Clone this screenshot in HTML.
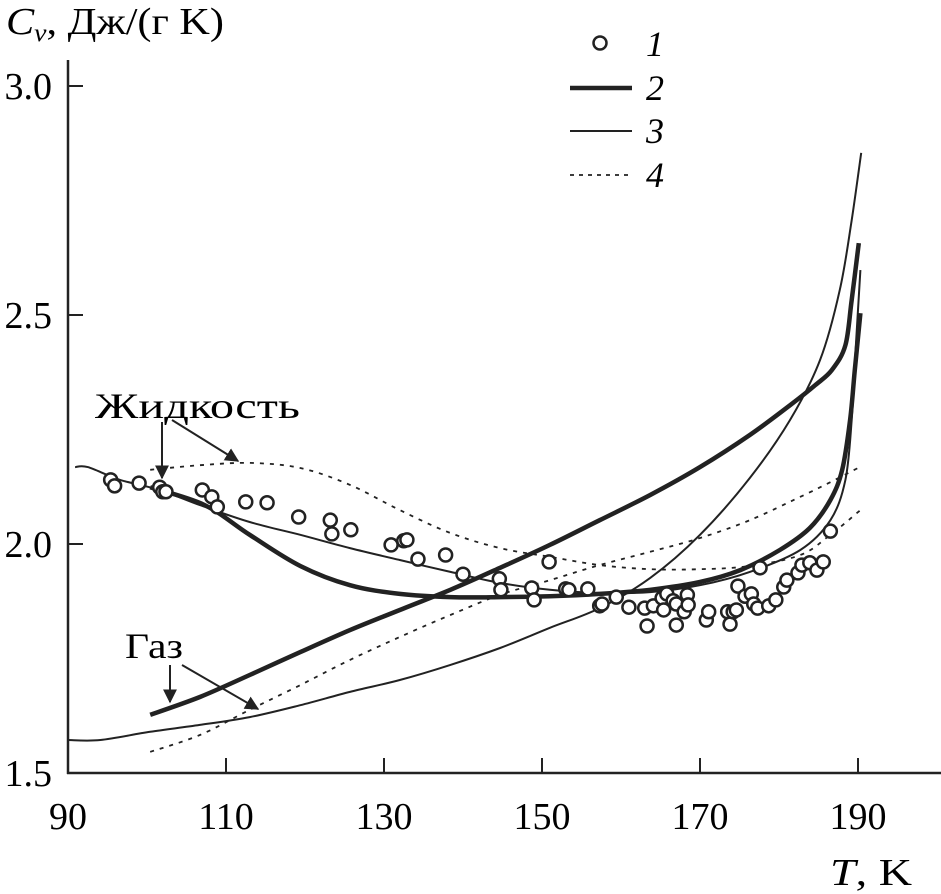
<!DOCTYPE html>
<html><head><meta charset="utf-8"><style>
body{margin:0;background:#fff}
svg{display:block;font-family:"Liberation Serif","DejaVu Serif",serif}
</style></head><body>
<svg id="chart" width="941" height="894" viewBox="0 0 941 894">
<defs><marker id="ah" viewBox="0 0 10 10" refX="9" refY="5" markerWidth="14" markerHeight="14" markerUnits="userSpaceOnUse" orient="auto"><path d="M0,0 L10,5 L0,10 z" fill="#222"/></marker></defs>
<g id="axes"></g><g id="series"></g><g id="pts"></g>
<text x="6" y="34" font-size="38" textLength="218" lengthAdjust="spacingAndGlyphs"><tspan font-style="italic">C</tspan><tspan font-style="italic" font-size="25" dy="7">v</tspan><tspan dy="-7">, Дж/(г K)</tspan></text>
<text x="830" y="885" font-size="38" textLength="82" lengthAdjust="spacingAndGlyphs"><tspan font-style="italic">T</tspan>, K</text>
<text x="95" y="418" font-size="36" textLength="205" lengthAdjust="spacingAndGlyphs">Жидкость</text>
<text x="125" y="658" font-size="36" textLength="58" lengthAdjust="spacingAndGlyphs">Газ</text>
<g stroke="#222" stroke-width="2" fill="none">
<line x1="162" y1="422" x2="162" y2="478" marker-end="url(#ah)"/>
<line x1="172" y1="420" x2="238" y2="461" marker-end="url(#ah)"/>
<line x1="170" y1="665" x2="170" y2="702" marker-end="url(#ah)"/>
<line x1="182" y1="665" x2="258" y2="709" marker-end="url(#ah)"/>
</g>
<g>
<circle cx="600" cy="43" r="6.5" fill="#fff" stroke="#222" stroke-width="2.5"/>
<text x="646" y="56" font-size="36" font-style="italic">1</text>
<line x1="570" y1="88" x2="632" y2="88" stroke="#222" stroke-width="4.5"/>
<text x="646" y="100" font-size="36" font-style="italic">2</text>
<line x1="570" y1="131" x2="632" y2="131" stroke="#222" stroke-width="2"/>
<text x="646" y="143" font-size="36" font-style="italic">3</text>
<line x1="570" y1="175" x2="632" y2="175" stroke="#222" stroke-width="1.8" stroke-dasharray="4,5"/>
<text x="646" y="187" font-size="36" font-style="italic">4</text>
</g>
</svg>
<script>
const xTicks=[90,110,130,150,170,190];
const yTicks=[1.5,2.0,2.5,3.0];
const yTickLabels=["1.5","2.0","2.5","3.0"];
const ptT=[95.4,95.9,99.0,101.6,102.0,102.4,107.0,108.2,108.9,112.5,115.2,119.2,123.2,123.4,125.8,130.9,132.5,132.9,134.3,137.8,140.0,144.6,144.8,148.7,149.0,150.9,153.0,153.4,155.8,157.3,157.6,159.4,161.0,163.0,163.3,164.1,165.2,165.4,165.8,166.6,167.0,167.0,168.0,168.4,168.5,170.8,171.1,173.5,173.8,174.2,174.6,174.8,175.7,176.5,176.8,177.6,177.3,178.7,179.6,180.6,181.0,182.4,182.9,183.9,184.8,185.6,186.5];
const ptCv=[2.140,2.127,2.133,2.124,2.114,2.114,2.118,2.103,2.081,2.092,2.090,2.059,2.052,2.022,2.031,1.998,2.007,2.009,1.967,1.976,1.934,1.924,1.900,1.904,1.878,1.961,1.902,1.900,1.902,1.865,1.869,1.884,1.862,1.860,1.821,1.865,1.882,1.856,1.891,1.876,1.869,1.823,1.852,1.889,1.867,1.834,1.852,1.852,1.825,1.852,1.856,1.908,1.886,1.891,1.869,1.948,1.860,1.865,1.878,1.906,1.921,1.937,1.954,1.959,1.943,1.961,2.028];
const c2LiqT=[100.4,107.3,113.0,119.4,125.7,132.0,138.4,144.7,151.0,157.3,163.7,170.0,175.1,180.1,183.9,186.5,188.0,189.0,189.6,190.3];
const c2LiqCv=[2.124,2.085,2.020,1.952,1.910,1.891,1.884,1.884,1.886,1.891,1.900,1.917,1.943,1.987,2.035,2.096,2.162,2.271,2.380,2.504];
const c2GasT=[100.4,106.7,113.0,119.4,125.7,132.0,138.4,144.7,151.0,157.3,163.7,170.0,176.3,181.4,184.6,186.7,188.4,189.2,190.1];
const c2GasCv=[1.627,1.666,1.714,1.764,1.812,1.856,1.900,1.948,1.998,2.052,2.107,2.168,2.238,2.303,2.347,2.380,2.434,2.533,2.657];
const c3LiqT=[90.9,92.5,96.6,101.6,106.7,113.0,119.4,125.7,132.0,138.4,144.7,151.0,157.3,163.7,170.0,176.3,182.7,186.5,188.4,189.2,189.7,190.3];
const c3LiqCv=[2.168,2.168,2.140,2.118,2.085,2.048,2.020,1.991,1.965,1.939,1.915,1.900,1.893,1.895,1.910,1.939,1.987,2.052,2.140,2.271,2.424,2.598];
const c3GasT=[90,94.1,100.4,106.7,113.0,119.4,125.7,132.0,138.4,144.7,151.0,157.3,163.7,170.0,176.3,181.4,185.2,187.7,189.2,190.4];
const c3GasCv=[1.572,1.572,1.590,1.605,1.622,1.648,1.677,1.703,1.736,1.773,1.817,1.860,1.926,2.020,2.144,2.271,2.402,2.555,2.707,2.854];
const c4LiqT=[100.4,106.7,113.0,119.4,125.7,132.0,138.4,144.7,151.0,157.3,163.7,170.0,176.3,182.7,186.5,190.3];
const c4LiqCv=[2.162,2.172,2.177,2.166,2.129,2.074,2.024,1.991,1.972,1.954,1.945,1.945,1.952,1.976,2.020,2.074];
const c4GasT=[100.4,106.7,113.0,119.4,125.7,132.0,138.4,144.7,151.0,157.3,163.7,170.0,176.3,182.7,186.5,190.0];
const c4GasCv=[1.546,1.583,1.638,1.692,1.747,1.797,1.845,1.889,1.921,1.954,1.983,2.013,2.052,2.103,2.135,2.166];

const NS="http://www.w3.org/2000/svg";
const xs=t=>68+(t-90)*7.9;
const ys=v=>773-(v-1.5)*458;
function mk(tag,at,parent){const e=document.createElementNS(NS,tag);for(const k in at)e.setAttribute(k,at[k]);parent.appendChild(e);return e;}
const ax=document.getElementById('axes');
let a=mk('line',{x1:68,y1:60,x2:68,y2:774,stroke:'#222','stroke-width':2.5},ax);


a=mk('line',{x1:67,y1:773,x2:941,y2:773,stroke:'#222','stroke-width':2.5},ax);


xTicks.forEach(t=>{
 const l=mk('line',{x1:xs(t),y1:773,x2:xs(t),y2:758,stroke:'#222','stroke-width':2},ax);
 
 
 const tx=mk('text',{x:xs(t),y:829,'font-size':38,'text-anchor':'middle'},ax);
 tx.textContent=t;
 
 
});
yTicks.forEach((v,i)=>{
 const l=mk('line',{x1:68,y1:ys(v),x2:83,y2:ys(v),stroke:'#222','stroke-width':2},ax);
 
 
 const tx=mk('text',{x:52,y:ys(v)+13,'font-size':38,'text-anchor':'end'},ax);
 tx.textContent=yTickLabels[i];
 
 
});
const sg=document.getElementById('series');
function smooth(P){
 let d='M'+P[0][0].toFixed(1)+','+P[0][1].toFixed(1);
 for(let i=0;i<P.length-1;i++){
  const p0=P[Math.max(0,i-1)],p1=P[i],p2=P[i+1],p3=P[Math.min(P.length-1,i+2)];
  const c1=[p1[0]+(p2[0]-p0[0])/6,p1[1]+(p2[1]-p0[1])/6];
  const c2=[p2[0]-(p3[0]-p1[0])/6,p2[1]-(p3[1]-p1[1])/6];
  d+=' C'+c1.map(v=>v.toFixed(1)).join(',')+' '+c2.map(v=>v.toFixed(1)).join(',')+' '+p2.map(v=>v.toFixed(1)).join(',');
 }
 return d;
}
function line(T,C,w,dash,name){
 const P=T.map((t,i)=>[xs(t),ys(C[i])]);
 const p=mk('path',{d:smooth(P),fill:'none',stroke:'#222','stroke-width':w,'stroke-linejoin':'round'},sg);
 if(dash)p.setAttribute('stroke-dasharray',dash);
 
 
}
line(c3LiqT,c3LiqCv,2,null,'series-3-liquid');
line(c3GasT,c3GasCv,2,null,'series-3-gas');
line(c4LiqT,c4LiqCv,1.8,'4,6','series-4-liquid');
line(c4GasT,c4GasCv,1.8,'4,6','series-4-gas');
line(c2LiqT,c2LiqCv,4.5,null,'series-2-liquid');
line(c2GasT,c2GasCv,4.5,null,'series-2-gas');
const pg=document.getElementById('pts');
ptT.forEach((t,i)=>{
 const c=mk('circle',{cx:xs(t),cy:ys(ptCv[i]),r:6.5,fill:'#fff',stroke:'#222','stroke-width':2.5},pg);
 
 
});
</script>
</body></html>
